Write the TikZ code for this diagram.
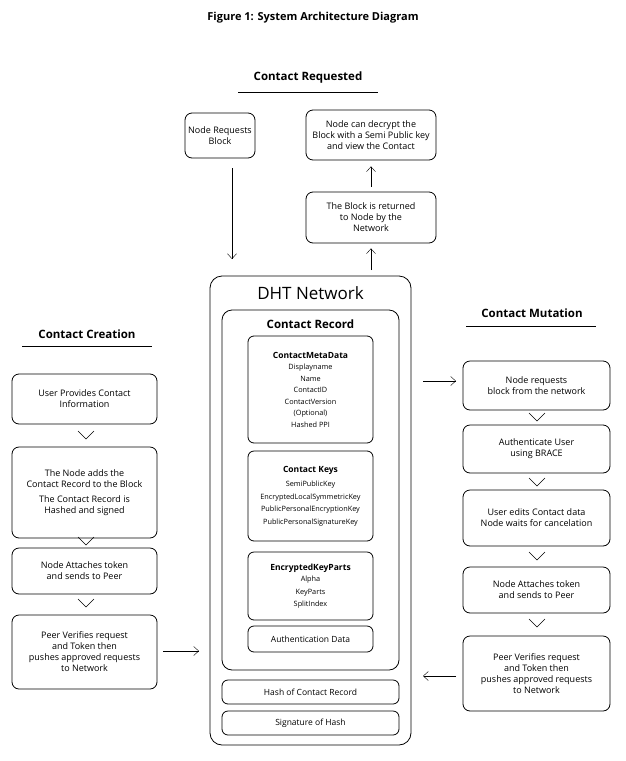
\documentclass[tikz,border=0pt]{standalone}
\usepackage{fontspec}
\setmainfont{Open Sans}
\usetikzlibrary{arrows.meta, positioning, calc}

\tikzset{
    box/.style={draw, rounded corners=7pt, thick, align=center, inner sep=2pt, font=\fontsize{9}{11}\selectfont},
    part/.style={draw, rounded corners=6pt, thick, align=center, inner sep=0pt, font=\fontsize{7.3}{13.5}\selectfont},
    head/.style={font=\fontsize{11.5}{13}\selectfont\bfseries},
    flow/.style={-{Straight Barb[length=5pt,width=9pt]}, thin},
    chev/.style={thin}
}
\newcommand{\chevron}[2]{\draw[chev] (#1-8,#2-4) -- (#1,#2+4) -- (#1+8,#2-4);}

\begin{document}
\begin{tikzpicture}[x=1pt, y=-1pt]
    \useasboundingbox (0,0) rectangle (626,761);
    \node[font=\fontsize{11}{13}\selectfont\bfseries] (title) at (313,18) {Figure 1: System Architecture Diagram};

    % Contact Requested
    \node[head] (req) at (308,78) {Contact Requested};
    \draw (238,92) -- (378,92);
    \node[box, minimum width=70pt, minimum height=45pt] (nrb) at (220,135.5) {Node Requests\\Block};
    \node[box, minimum width=130pt, minimum height=50pt] (dec) at (371,135) {Node can decrypt the\\Block with a Semi Public key\\and view the Contact};
    \node[box, minimum width=130pt, minimum height=51pt] (ret) at (371,217.5) {The Block is returned\\to Node by the\\Network};

    % DHT Network
    \node[draw, thick, rounded corners=12pt, minimum width=201pt, minimum height=469pt] (dht) at (310.5,510.5) {};
    \node[font=\fontsize{17}{19}\selectfont] (dhtt) at (310.5,293) {DHT Network};
    \node[draw, thick, rounded corners=10pt, minimum width=177pt, minimum height=360pt] (rec) at (310.5,490) {};
    \node[head] (rect) at (310.5,324) {Contact Record};
    \node[part, minimum width=125pt, minimum height=107pt] (meta) at (310.5,389.5)
        {\textbf{\fontsize{8.5}{10}\selectfont ContactMetaData}\\[-2pt]Displayname\\[-2pt]Name\\[-2pt]ContactID\\[-2pt]ContactVersion\\[-2pt](Optional)\\[-2pt]Hashed PPI};
    \node[part, minimum width=125pt, minimum height=90pt] (keys) at (310.5,496)
        {\textbf{\fontsize{8.5}{10}\selectfont Contact Keys}\\[1pt]SemiPublicKey\\[-1pt]EncryptedLocalSymmetricKey\\[-1pt]PublicPersonalEncryptionKey\\[-1pt]PublicPersonalSignatureKey};
    \node[part, minimum width=125pt, minimum height=68pt] (kparts) at (310.5,586)
        {\textbf{\fontsize{8.5}{10}\selectfont EncryptedKeyParts}\\[-2pt]Alpha\\[-1pt]KeyParts\\[-1pt]SplitIndex};
    \node[part, minimum width=125pt, minimum height=26pt, font=\fontsize{8.5}{10}\selectfont] (auth) at (310.5,639) {Authentication Data};
    \node[part, minimum width=177pt, minimum height=24pt, font=\fontsize{8.5}{10}\selectfont] (hash) at (310.5,692) {Hash of Contact Record};
    \node[part, minimum width=177pt, minimum height=24pt, font=\fontsize{8.5}{10}\selectfont] (sig) at (310.5,723) {Signature of Hash};

    % Contact Creation
    \node[head] (cre) at (87,334) {Contact Creation};
    \draw (22,346) -- (152,346);
    \node[box, minimum width=145pt, minimum height=50pt] (c1) at (84.5,399) {User Provides Contact\\Information};
    \node[box, minimum width=145pt, minimum height=91pt] (c2) at (84.5,492.5) {The Node adds the\\Contact Record to the Block\\[4pt]The Contact Record is\\Hashed and signed};
    \node[box, minimum width=145pt, minimum height=46pt] (c3) at (84.5,571) {Node Attaches token\\and sends to Peer};
    \node[box, minimum width=145pt, minimum height=74pt] (c4) at (84.5,652) {Peer Verifies request\\and Token then\\pushes approved requests\\to Network};
    \chevron{86}{435}
    \chevron{86}{541}
    \chevron{86}{603}

    % Contact Mutation
    \node[head] (mut) at (532,313) {Contact Mutation};
    \draw (466,326) -- (596,326);
    \node[box, minimum width=147pt, minimum height=49pt] (m1) at (536.5,385.5) {Node requests\\block from the network};
    \node[box, minimum width=147pt, minimum height=48pt] (m2) at (536.5,449) {Authenticate User\\using BRACE};
    \node[box, minimum width=147pt, minimum height=56pt] (m3) at (536.5,518) {User edits Contact data\\Node waits for cancelation};
    \node[box, minimum width=147pt, minimum height=46pt] (m4) at (536.5,590) {Node Attaches token\\and sends to Peer};
    \node[box, minimum width=147pt, minimum height=75pt] (m5) at (536.5,673.5) {Peer Verifies request\\and Token then\\pushes approved requests\\to Network};
    \chevron{537}{417}
    \chevron{537}{482}
    \chevron{537}{556}
    \chevron{537}{623}

    % arrows
    \coordinate (a1) at (232,168);
    \coordinate (a2) at (232,259);
    \draw[flow] (a1) -- (a2);
    \draw[flow] ($(ret.north)+(0,-5)$) -- ($(dec.south)+(0,6)$);
    \coordinate (b1) at (371,270);
    \draw[flow] (b1) -- ($(ret.south)+(0,5)$);
    \coordinate (l1) at (163,651);
    \coordinate (l2) at (199,651);
    \draw[flow] (l1) -- (l2);
    \coordinate (r1) at (423,381);
    \coordinate (r2) at (456,381);
    \draw[flow] (r1) -- (r2);
    \coordinate (r3) at (456,676);
    \coordinate (r4) at (423,676);
    \draw[flow] (r3) -- (r4);
\end{tikzpicture}
\end{document}
